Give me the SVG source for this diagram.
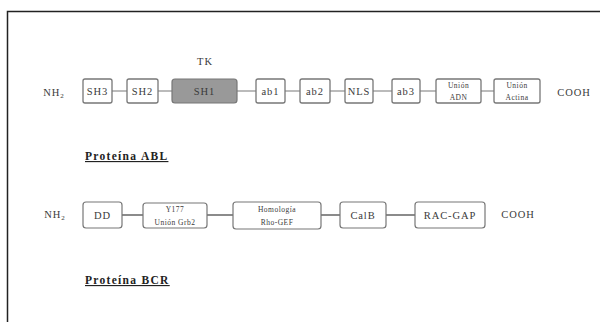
<svg xmlns="http://www.w3.org/2000/svg" width="600" height="322" viewBox="0 0 600 322">
<style>
text{font-family:"Liberation Serif","DejaVu Serif",serif;fill:#3a3a3a;text-anchor:middle}
.t{font-size:10.5px;letter-spacing:0.9px}
.s{font-size:7.5px;letter-spacing:0.5px}
.a{fill:#fff;stroke:#777;stroke-width:1.3}
.b{fill:#fff;stroke:#777;stroke-width:1.2}
.la{stroke:#bbb;stroke-width:2;fill:none}
.lb{stroke:#666;stroke-width:1.3;fill:none}
.h{font-size:11.5px;font-weight:bold;text-decoration:underline;text-anchor:start;fill:#222;letter-spacing:1.3px}
</style>
<rect x="0" y="0" width="600" height="322" fill="#fff"/>
<path d="M7.5 322 V11.5 H600" stroke="#222" stroke-width="1.5" fill="none"/>
<g id="connectors">
<path class="la" d="M112 91 H127 M158 91 H172 M237 91 H256 M285 91 H300 M330 91 H345 M373 91 H392 M420 91 H436 M481 91 H494"/>
<path class="lb" d="M122 215 H143 M207 215 H233 M321 215 H340 M386 215 H415"/>
</g>
<g id="abl">
<text class="t" x="54" y="96">NH<tspan font-size="7" dy="2">2</tspan></text>
<text class="t" x="205" y="65">TK</text>
<g id="sh3"><rect class="a" x="83" y="79" width="29" height="24" rx="2"/><text class="t" x="97.5" y="95">SH3</text></g>
<g id="sh2"><rect class="a" x="127" y="79" width="31" height="24" rx="2"/><text class="t" x="142.5" y="95">SH2</text></g>
<g id="sh1"><rect x="172" y="79" width="65" height="24" rx="3" fill="#999" stroke="#777" stroke-width="1.2"/><text class="t" x="204.5" y="95">SH1</text></g>
<g id="ab1"><rect class="a" x="256" y="79" width="29" height="24" rx="2"/><text class="t" x="270.5" y="95">ab1</text></g>
<g id="ab2"><rect class="a" x="300" y="79" width="30" height="24" rx="2"/><text class="t" x="315" y="95">ab2</text></g>
<g id="nls"><rect class="a" x="345" y="79" width="28" height="24" rx="2"/><text class="t" x="359" y="95">NLS</text></g>
<g id="ab3"><rect class="a" x="392" y="79" width="28" height="24" rx="2"/><text class="t" x="406" y="95">ab3</text></g>
<g id="adn"><rect class="a" x="436" y="79" width="45" height="24" rx="2"/><text class="s" x="458.5" y="88">Unión</text><text class="s" x="458.5" y="100">ADN</text></g>
<g id="actina"><rect class="a" x="494" y="79" width="46" height="24" rx="2"/><text class="s" x="517" y="88">Unión</text><text class="s" x="517" y="100">Actina</text></g>
<text class="t" x="574" y="96">COOH</text>
<text class="h" x="85" y="160">Proteína ABL</text>
</g>
<g id="bcr">
<text class="t" x="55" y="218">NH<tspan font-size="7" dy="2">2</tspan></text>
<g id="dd"><rect class="b" x="83" y="202" width="39" height="26" rx="3"/><text class="t" x="102.5" y="219">DD</text></g>
<g id="y177"><rect class="b" x="143" y="203" width="64" height="25" rx="3"/><text class="s" x="175" y="212">Y177</text><text class="s" x="175" y="225">Unión Grb2</text></g>
<g id="rhogef"><rect class="b" x="233" y="202" width="88" height="27" rx="3"/><text class="s" x="277" y="212">Homología</text><text class="s" x="277" y="225">Rho-GEF</text></g>
<g id="calb"><rect class="b" x="340" y="202" width="46" height="26" rx="3"/><text class="t" x="363" y="219">CalB</text></g>
<g id="racgap"><rect class="b" x="415" y="202" width="70" height="26" rx="3"/><text class="t" x="450" y="219">RAC-GAP</text></g>
<text class="t" x="518" y="218">COOH</text>
<text class="h" x="85" y="284">Proteína BCR</text>
</g>
</svg>
